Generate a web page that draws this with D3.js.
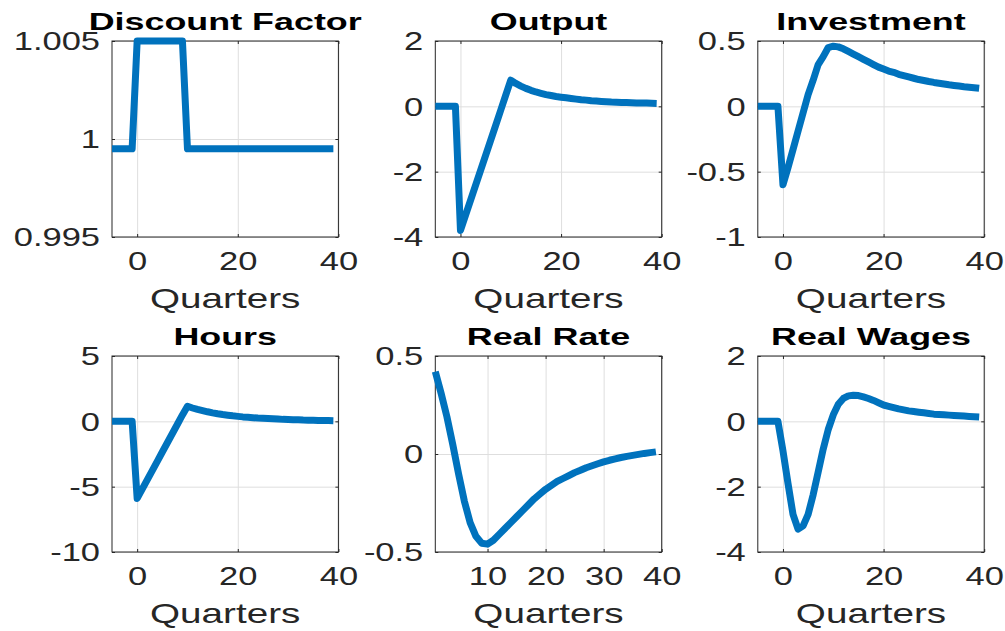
<!DOCTYPE html>
<html>
<head>
<meta charset="utf-8">
<script src="https://cdn.jsdelivr.net/npm/d3@7"></script>
<style>
  body { margin: 0; background: #fff; }
  svg { display: block; font-family: "Liberation Sans", Arial, Helvetica, sans-serif; }
  .grid line { stroke: #dedede; stroke-width: 1; }
  .grid path { display: none; }
  .tk path { display: none; }
  .tk line { stroke: #262626; }
  .tk text { fill: #262626; font-size: 25px; }
</style>
</head>
<body>
<script>
// quarters after the shock
var quarters = [-5, -4, -3, -2, -1, 0, 1, 2, 3, 4, 5, 6, 7, 8, 9, 10, 11, 12, 13, 14, 15, 16, 17, 18, 19,
  20, 21, 22, 23, 24, 25, 26, 27, 28, 29, 30, 31, 32, 33, 34, 35, 36, 37, 38, 39];
var rateQuarters = [1, 2, 3, 4, 5, 6, 7, 8, 9, 10, 11, 12, 13, 14, 15, 16, 17, 18, 19,
  20, 21, 22, 23, 24, 25, 26, 27, 28, 29, 30, 31, 32, 33, 34, 35, 36, 37, 38, 39];

var discountFactor = [0.9995, 0.9995, 0.9995, 0.9995, 0.9995,
  1.005, 1.005, 1.005, 1.005, 1.005, 1.005, 1.005, 1.005, 1.005, 1.005,
  0.9995, 0.9995, 0.9995, 0.9995, 0.9995, 0.9995, 0.9995, 0.9995, 0.9995, 0.9995,
  0.9995, 0.9995, 0.9995, 0.9995, 0.9995, 0.9995, 0.9995, 0.9995, 0.9995, 0.9995,
  0.9995, 0.9995, 0.9995, 0.9995, 0.9995, 0.9995, 0.9995, 0.9995, 0.9995, 0.9995];

var output = [0, 0, 0, 0, 0,
  -3.8, -3.34, -2.88, -2.42, -1.96, -1.5, -1.04, -0.58, -0.12, 0.34, 0.8,
  0.70, 0.62, 0.55, 0.49, 0.44, 0.40, 0.36, 0.33, 0.30, 0.28, 0.26, 0.24, 0.22, 0.20,
  0.19, 0.17, 0.16, 0.15, 0.14, 0.13, 0.125, 0.12, 0.115, 0.11, 0.105, 0.10, 0.10, 0.095, 0.09];

var investment = [0, 0, 0, 0, 0,
  -0.60, -0.47, -0.33, -0.19, -0.05, 0.09, 0.20, 0.32, 0.38, 0.45,
  0.46, 0.455, 0.44, 0.42, 0.40, 0.38, 0.36, 0.34, 0.32, 0.30,
  0.285, 0.27, 0.26, 0.245, 0.235, 0.225, 0.215, 0.205, 0.198, 0.19,
  0.183, 0.177, 0.171, 0.165, 0.160, 0.155, 0.150, 0.146, 0.142, 0.138];

var hours = [0, 0, 0, 0, 0,
  -5.9, -5.19, -4.48, -3.77, -3.06, -2.35, -1.64, -0.93, -0.22, 0.49, 1.15,
  1.02, 0.91, 0.82, 0.73, 0.65, 0.58, 0.52, 0.47, 0.42, 0.38, 0.34, 0.31, 0.28, 0.25,
  0.23, 0.21, 0.19, 0.17, 0.15, 0.14, 0.13, 0.12, 0.10, 0.09, 0.08, 0.07, 0.07, 0.06, 0.05];

var realRate = [0.42, 0.31, 0.19, 0.05, -0.10, -0.24, -0.35, -0.42, -0.455, -0.46,
  -0.44, -0.41, -0.38, -0.35, -0.32, -0.29, -0.26, -0.23, -0.205, -0.18,
  -0.16, -0.14, -0.125, -0.11, -0.095, -0.083, -0.07, -0.06, -0.05, -0.04,
  -0.032, -0.025, -0.018, -0.012, -0.007, -0.002, 0.003, 0.007, 0.011];

var realWages = [0, 0, 0, 0, 0,
  -0.9, -1.9, -2.85, -3.3, -3.2, -2.85, -2.25, -1.55, -0.85, -0.25,
  0.2, 0.52, 0.70, 0.78, 0.80, 0.79, 0.75, 0.70, 0.64, 0.57,
  0.50, 0.46, 0.42, 0.38, 0.35, 0.32, 0.30, 0.28, 0.26, 0.24,
  0.22, 0.21, 0.20, 0.19, 0.18, 0.17, 0.16, 0.15, 0.14, 0.13];

var titles = ["Discount Factor", "Output", "Investment", "Hours", "Real Rate", "Real Wages"];
var xLabel = "Quarters";
var xTicks = [0, 20, 40];
var rateXTicks = [10, 20, 30, 40];
var yTicks = [[0.995, 1, 1.005], [-4, -2, 0, 2], [-1, -0.5, 0, 0.5],
              [-10, -5, 0, 5], [-0.5, 0, 0.5], [-4, -2, 0, 2]];

var panels = [
  {x: quarters, y: discountFactor, xd: [-5, 40], xt: xTicks},
  {x: quarters, y: output, xd: [-5, 40], xt: xTicks},
  {x: quarters, y: investment, xd: [-5, 40], xt: xTicks},
  {x: quarters, y: hours, xd: [-5, 40], xt: xTicks},
  {x: rateQuarters, y: realRate, xd: [1, 40], xt: rateXTicks},
  {x: quarters, y: realWages, xd: [-5, 40], xt: xTicks}
];

var W = 1005, H = 631;
var colLeft = [112, 435.3, 757.8], rowTop = [41, 356];
var pw = 226.4, ph = 196;
var blue = "#0072bd";

var svg = d3.select("body").append("svg")
  .attr("width", W)
  .attr("height", H);

panels.forEach(function(p, i) {
  var yt = yTicks[i];
  var g = svg.append("g")
    .attr("transform", "translate(" + colLeft[i % 3] + "," + rowTop[Math.floor(i / 3)] + ")");

  var x = d3.scaleLinear().domain(p.xd).range([0, pw]);
  var y = d3.scaleLinear().domain([yt[0], yt[yt.length - 1]]).range([ph, 0]);

  // grid
  g.append("g").attr("class", "grid")
    .attr("transform", "translate(0," + ph + ")")
    .call(d3.axisBottom(x).tickValues(p.xt).tickSize(-ph).tickFormat(""));
  g.append("g").attr("class", "grid")
    .call(d3.axisLeft(y).tickValues(yt).tickSize(-pw).tickFormat(""));

  // box
  g.append("rect")
    .attr("width", pw).attr("height", ph)
    .attr("fill", "none").attr("stroke", "#262626").attr("stroke-width", 1);

  // ticks (inside, all four sides)
  var fmt = function(d) { return String(d); };
  var bx = g.append("g").attr("class", "tk")
    .attr("transform", "translate(0," + ph + ")")
    .call(d3.axisBottom(x).tickValues(p.xt).tickSize(-3).tickFormat(fmt));
  bx.selectAll("text")
    .attr("y", 0).attr("dy", 0)
    .attr("text-anchor", "middle")
    .attr("transform", "translate(0,33) scale(1.38,1)");
  g.append("g").attr("class", "tk")
    .call(d3.axisTop(x).tickValues(p.xt).tickSize(-3).tickFormat(""));

  var ly = g.append("g").attr("class", "tk")
    .call(d3.axisLeft(y).tickValues(yt).tickSize(-3).tickFormat(fmt));
  ly.selectAll("text")
    .attr("x", 0).attr("dy", "0.35em")
    .attr("text-anchor", "end")
    .attr("transform", "translate(-12,0) scale(1.38,1)");
  g.append("g").attr("class", "tk")
    .attr("transform", "translate(" + pw + ",0)")
    .call(d3.axisRight(y).tickValues(yt).tickSize(-3).tickFormat(""));

  // response line
  var line = d3.line()
    .x(function(d, k) { return x(p.x[k]); })
    .y(function(d) { return y(d); });
  g.append("path")
    .datum(p.y)
    .attr("d", line)
    .attr("fill", "none")
    .attr("stroke", blue)
    .attr("stroke-width", 7)
    .attr("stroke-linejoin", "round");

  // title
  g.append("text")
    .attr("transform", "translate(" + (pw / 2) + ",-11) scale(1.56,1)")
    .attr("text-anchor", "middle")
    .style("font-size", "23px")
    .style("font-weight", "bold")
    .style("fill", "#000")
    .text(titles[i]);

  // x label
  g.append("text")
    .attr("transform", "translate(" + (pw / 2) + "," + (ph + 71) + ") scale(1.38,1)")
    .attr("text-anchor", "middle")
    .style("font-size", "28px")
    .style("fill", "#262626")
    .text(xLabel);
});
</script>
</body>
</html>
